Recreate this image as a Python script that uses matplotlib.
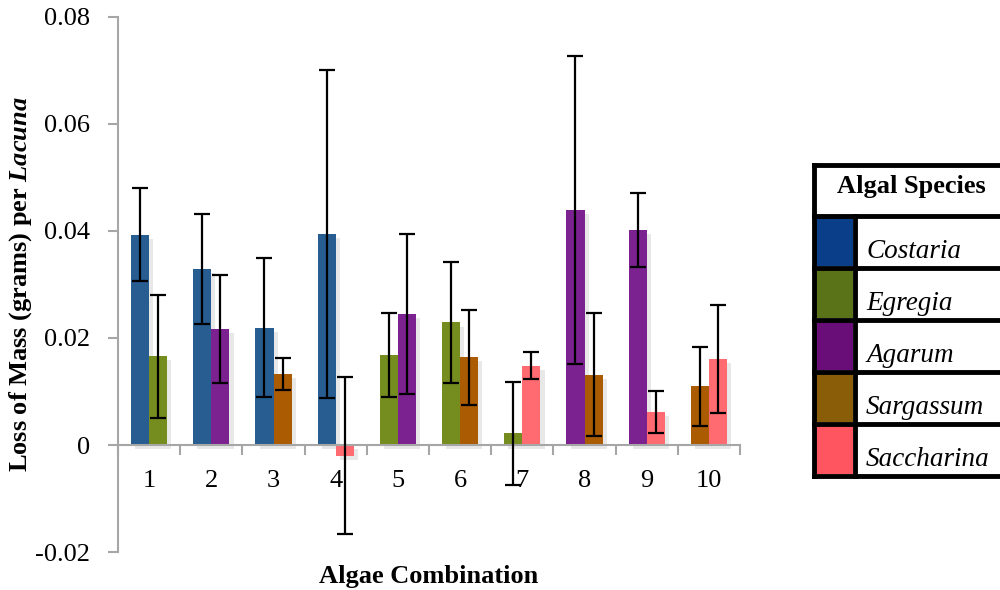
import matplotlib
matplotlib.use("Agg")
import matplotlib.pyplot as plt
import matplotlib.patheffects as pe
from matplotlib.patches import Rectangle
from matplotlib.lines import Line2D
import numpy as np

# Species and colours (bars / legend swatches)
species = ["Costaria", "Egregia", "Agarum", "Sargassum", "Saccharina"]
bar_colors = {"Costaria": "#275D91", "Egregia": "#758C1F", "Agarum": "#7B2190",
              "Sargassum": "#AB5B02", "Saccharina": "#FF6B70"}
legend_colors = ["#0B3E88", "#5B7318", "#690D79", "#8A5E08", "#FF5560"]

# Algae combinations (two species per combination)
groups = [1, 2, 3, 4, 5, 6, 7, 8, 9, 10]
left_species = ["Costaria", "Costaria", "Costaria", "Costaria", "Egregia",
                "Egregia", "Egregia", "Agarum", "Agarum", "Sargassum"]
left_vals = [0.0393, 0.0329, 0.0219, 0.0394, 0.0168, 0.0229, 0.0022, 0.0439, 0.0402, 0.0110]
left_errs = [0.0087, 0.0103, 0.0130, 0.0306, 0.0079, 0.0113, 0.0096, 0.0288, 0.0069, 0.0074]
right_species = ["Egregia", "Agarum", "Sargassum", "Saccharina", "Agarum",
                 "Sargassum", "Saccharina", "Sargassum", "Saccharina", "Saccharina"]
right_vals = [0.0166, 0.0217, 0.0133, -0.0020, 0.0245, 0.0164, 0.0148, 0.0131, 0.0062, 0.0161]
right_errs = [0.0115, 0.0101, 0.0030, 0.0147, 0.0149, 0.0089, 0.0025, 0.0115, 0.0039, 0.0101]

# fonts (mathtext settings must come before any text is made)
plt.rcParams['font.family'] = ["Liberation Serif", "DejaVu Serif"]
plt.rcParams['mathtext.fontset'] = 'custom'
plt.rcParams['mathtext.it'] = 'Liberation Serif:italic:bold'
plt.rcParams['mathtext.rm'] = 'Liberation Serif:bold'

fig = plt.figure(figsize=(10, 5.9), dpi=100)
ax = fig.add_axes([0.118, 0.0644, 0.622, 0.9068])

x = np.array(groups, dtype=float)
w = 0.29
shadow = [pe.SimplePatchShadow(offset=(3, -3), shadow_rgbFace="#999999", alpha=0.22), pe.Normal()]

bl = ax.bar(x - w / 2, left_vals, w, color=[bar_colors[s] for s in left_species], zorder=2)
br = ax.bar(x + w / 2, right_vals, w, color=[bar_colors[s] for s in right_species], zorder=2)
for b in list(bl) + list(br):
    b.set_path_effects(shadow)

ax.errorbar(x - w / 2, left_vals, yerr=left_errs, fmt="none", ecolor="black",
            elinewidth=1.6, capsize=6, capthick=1.6, zorder=3)
ax.errorbar(x + w / 2, right_vals, yerr=right_errs, fmt="none", ecolor="black",
            elinewidth=1.6, capsize=6, capthick=1.6, zorder=3)

ax.set_xlim(0.5, 10.5)
ax.set_ylim(-0.02, 0.08)
ax.set_yticks([-0.02, 0, 0.02, 0.04, 0.06, 0.08])
ax.set_yticklabels(["-0.02", "0", "0.02", "0.04", "0.06", "0.08"])

for s in ["top", "right"]:
    ax.spines[s].set_visible(False)
ax.spines["bottom"].set_position(("data", 0))
ax.spines["bottom"].set_color("#A6A6A6")
ax.spines["left"].set_color("#A6A6A6")
ax.spines["bottom"].set_linewidth(1.5)
ax.spines["left"].set_linewidth(1.5)

ax.set_xticks(x)
ax.set_xticklabels([str(g) for g in groups])
ax.set_xticks(np.arange(0.5, 11, 1.0), minor=True)
ax.tick_params(axis="x", which="major", length=0, pad=18, labelsize=19)
ax.tick_params(axis="x", which="minor", length=7, width=1.5, color="#A6A6A6", direction="out")
ax.tick_params(axis="y", length=7, width=1.5, color="#A6A6A6", labelsize=19, pad=13)

ax.set_ylabel("Loss of Mass (grams) per $\\mathit{Lacuna}$", fontsize=19, fontweight="bold")
ax.yaxis.set_label_coords(-0.135, 0.5)
ax.set_xlabel("Algae Combination", fontsize=19, fontweight="bold")
ax.xaxis.set_label_coords(0.5, -0.024)

# Legend as a table on the right
def fx(px):
    return px / 1000.0

def fy(py):
    return 1 - py / 590.0

lw = 3.5
top, head_h, row_h = 165, 51, 52
left, sw_right, right = 814, 855, 1005
bottom = top + head_h + row_h * len(species)
fig.add_artist(Line2D([fx(left), fx(left)], [fy(top), fy(bottom)], color="black", lw=lw))
fig.add_artist(Line2D([fx(sw_right), fx(sw_right)], [fy(top + head_h), fy(bottom)], color="black", lw=lw))
for k in range(len(species) + 2):
    yy = top if k == 0 else top + head_h + row_h * (k - 1)
    fig.add_artist(Line2D([fx(left), fx(right)], [fy(yy), fy(yy)], color="black", lw=lw))
fig.text(fx(911), fy(top + 22), "Algal Species", ha="center", va="center",
         fontsize=19, fontweight="bold")
for k, (name, col) in enumerate(zip(species, legend_colors)):
    y0 = top + head_h + row_h * k
    fig.add_artist(Rectangle((fx(left + 2), fy(y0 + row_h - 2)), fx(sw_right - left - 4),
                             (row_h - 4) / 590.0, transform=fig.transFigure,
                             facecolor=col, edgecolor="none"))
    fig.text(fx(866), fy(y0 + row_h * 0.68), name, ha="left", va="center",
             fontsize=19.5, style="italic")

fig.savefig("out.png", dpi=100)
